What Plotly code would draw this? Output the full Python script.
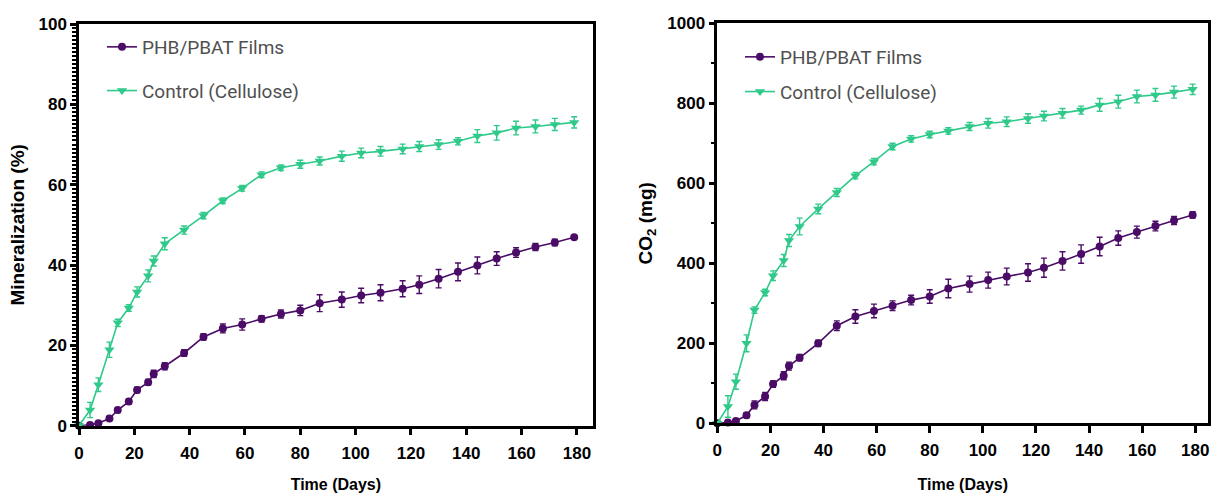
import plotly.graph_objects as go

# ---------------- data ----------------
days = [0, 4, 7, 11, 14, 18, 21, 25, 27, 31, 38, 45, 52, 59, 66, 73, 80, 87,
        95, 102, 109, 117, 123, 130, 137, 144, 151, 158, 165, 172, 179]

# Left panel: Mineralization (%)
min_phb = [0, 0.2, 0.6, 1.8, 3.9, 6.0, 8.9, 10.8, 12.9, 14.8, 18.1, 22.1, 24.2, 25.2,
           26.6, 27.8, 28.7, 30.5, 31.4, 32.4, 33.1, 34.1, 35.1, 36.6, 38.3, 39.9,
           41.6, 43.1, 44.5, 45.6, 46.9]
min_phb_err = [0, 0.3, 0.4, 0.5, 0.6, 0.6, 0.7, 0.7, 0.9, 0.9, 0.8, 0.8, 1.1, 1.4,
               0.8, 1.0, 1.3, 2.1, 1.9, 1.8, 2.0, 2.0, 2.2, 2.3, 2.2, 2.1, 1.7, 1.2,
               0.9, 0.8, 0.4]
min_ctrl = [0, 3.9, 10.2, 18.9, 25.6, 29.3, 33.3, 37.3, 41.0, 45.3, 48.7, 52.3, 56.0,
            59.1, 62.5, 64.2, 65.1, 65.9, 67.1, 67.9, 68.3, 68.9, 69.5, 70.0, 70.8,
            72.1, 72.9, 74.1, 74.5, 75.0, 75.5]
min_ctrl_err = [0, 1.9, 1.7, 1.9, 0.9, 0.8, 1.25, 1.5, 1.25, 1.5, 1.0, 0.8, 0.7, 0.7,
                0.7, 0.7, 1.0, 1.0, 1.25, 1.2, 1.2, 1.2, 1.25, 1.2, 0.9, 1.6, 1.8,
                1.7, 1.6, 1.5, 1.4]

# Right panel: CO2 (mg)
co2_phb = [0, 2, 6, 20, 46, 67, 98, 119, 143, 164, 200, 244, 267, 281, 294, 308,
           317, 337, 348, 358, 367, 377, 389, 406, 423, 442, 463, 478, 493, 507, 521]
co2_phb_err = [0, 3, 4, 6, 10, 10, 8, 10, 10, 8, 8, 12, 17, 17, 12, 12, 17, 23, 20,
               20, 21, 22, 24, 23, 23, 23, 18, 15, 12, 10, 8]
co2_ctrl = [0, 42, 104, 200, 283, 327, 369, 407, 457, 492, 536, 577, 619, 654, 692,
            711, 722, 731, 742, 750, 754, 762, 768, 775, 783, 796, 804, 817, 821,
            828, 835]
co2_ctrl_err = [0, 27, 19, 21, 8, 8, 12, 15, 15, 21, 12, 10, 8, 8, 8, 8, 8, 8, 10,
                12, 12, 12, 12, 12, 10, 16, 16, 16, 16, 15, 13]

series_names = ["PHB/PBAT Films", "Control (Cellulose)"]
x_ticks = [0, 20, 40, 60, 80, 100, 120, 140, 160, 180]

# ---------------- style ----------------
PURPLE = "#4A0C66"
GREEN = "#2FC98A"
AX_FONT = dict(family="Liberation Sans", size=17, color="black", weight="bold")
XTITLE_FONT = dict(family="Liberation Sans", size=16, color="black", weight="bold")
YTITLE_FONT = dict(family="Liberation Sans", size=19, color="black", weight="bold")
LEG_FONT = dict(family="Roboto", size=19, color="#505050")

fig = go.Figure()


def add_series(x, y, err, name, color, symbol, size, xa, ya, legend, group):
    fig.add_trace(go.Scatter(
        x=x, y=y, name=name, mode="lines+markers",
        line=dict(color=color, width=1.6),
        marker=dict(color=color, symbol=symbol, size=size),
        error_y=dict(type="data", array=err, visible=True, color=color,
                     thickness=1.4, width=3),
        xaxis=xa, yaxis=ya, legend=legend, legendgroup=group,
        cliponaxis=False,
    ))


add_series(days, min_phb, min_phb_err, series_names[0], PURPLE, "circle", 8,
           "x", "y", "legend", "a1")
add_series(days, min_ctrl, min_ctrl_err, series_names[1], GREEN, "triangle-down", 9,
           "x", "y", "legend", "a2")
add_series(days, co2_phb, co2_phb_err, series_names[0], PURPLE, "circle", 8,
           "x2", "y2", "legend2", "b1")
add_series(days, co2_ctrl, co2_ctrl_err, series_names[1], GREEN, "triangle-down", 9,
           "x2", "y2", "legend2", "b2")

W, H = 1211, 498


def px_x(p):
    return p / W


def px_y(p):
    return 1 - p / H


common_x = dict(
    tickvals=x_ticks, ticks="outside", ticklen=7, tickwidth=2.5, tickcolor="black",
    showline=True, linewidth=2.5, linecolor="black", mirror=True,
    showgrid=False, zeroline=False, tickfont=AX_FONT, automargin=False,
    ticklabelstandoff=3,
)
common_y = dict(
    ticks="outside", ticklen=6, tickwidth=2.5, tickcolor="black",
    showline=True, linewidth=2.5, linecolor="black", mirror=True,
    showgrid=False, zeroline=False, tickfont=AX_FONT, automargin=False,
)

fig.update_layout(
    width=W, height=H,
    margin=dict(l=0, r=0, t=0, b=0, autoexpand=False),
    paper_bgcolor="white", plot_bgcolor="white",
    xaxis=dict(common_x, domain=[px_x(79), px_x(592.7)], range=[0, 185.7],
               anchor="y",
               title=dict(text="Time (Days)", font=XTITLE_FONT, standoff=17)),
    yaxis=dict(common_y, domain=[px_y(425.7), px_y(24)], range=[0, 100],
               dtick=20, anchor="x",
               minor=dict(dtick=1, ticks="outside", ticklen=4, tickwidth=1.5,
                          tickcolor="black"),
               title=dict(text="Mineralization (%)", font=YTITLE_FONT, standoff=9)),
    xaxis2=dict(common_x, domain=[px_x(717.3), px_x(1208.3)], range=[0, 184.9],
                anchor="y2",
                title=dict(text="Time (Days)", font=XTITLE_FONT, standoff=20)),
    yaxis2=dict(common_y, domain=[px_y(423.3), px_y(23.3)], range=[0, 1000],
                dtick=200, anchor="x2",
                minor=dict(dtick=100, ticks="outside", ticklen=4, tickwidth=2,
                           tickcolor="black"),
                title=dict(text="CO<sub>2</sub> (mg)", font=YTITLE_FONT, standoff=10)),
    legend=dict(x=px_x(102), y=px_y(28), xanchor="left", yanchor="top",
                bgcolor="rgba(0,0,0,0)", font=LEG_FONT, tracegroupgap=16,
                itemwidth=30),
    legend2=dict(x=px_x(740), y=px_y(38), xanchor="left", yanchor="top",
                 bgcolor="rgba(0,0,0,0)", font=LEG_FONT, tracegroupgap=7,
                 itemwidth=30),
    showlegend=True,
)

fig.write_html("out.html")
